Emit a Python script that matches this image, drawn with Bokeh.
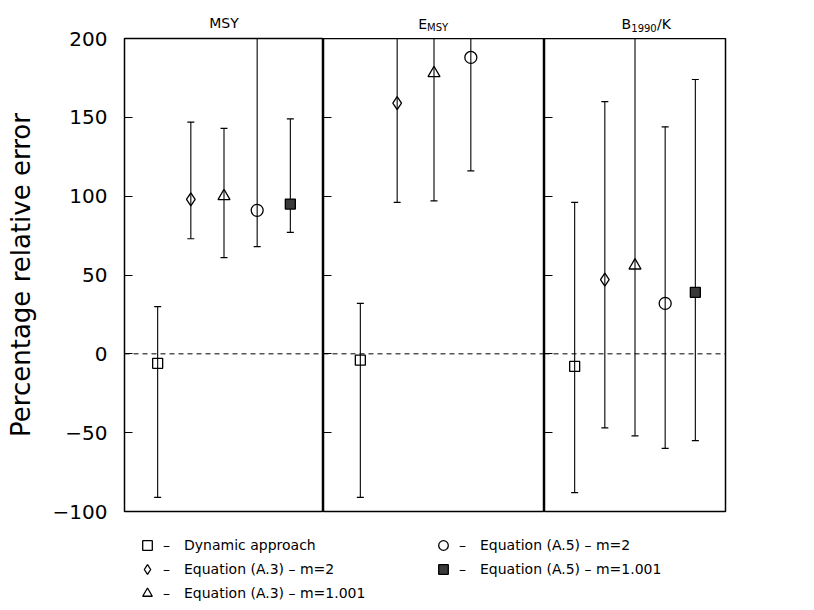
from bokeh.plotting import figure
from bokeh.models import (Range1d, ColumnDataSource, Whisker, TeeHead, Span, Label,
                          Legend, LegendItem, LinearAxis, FixedTicker)
from bokeh.layouts import row, column
from bokeh.embed import file_html
from bokeh.resources import INLINE

# ---------------- data ----------------
methods = ["Dynamic approach",
           "Equation (A.3) \u2013 m=2",
           "Equation (A.3) \u2013 m=1.001",
           "Equation (A.5) \u2013 m=2",
           "Equation (A.5) \u2013 m=1.001"]

msy_est = [-6, 98, 100, 91, 95]
msy_low = [-91, 73, 61, 68, 77]
msy_high = [30, 147, 143, 200, 149]

emsy_est = [-4, 159, 178, 188]
emsy_low = [-91, 96, 97, 116]
emsy_high = [32, 200, 200, 200]

b_est = [-8, 47, 56, 32, 39]
b_low = [-88, -47, -52, -60, -55]
b_high = [96, 160, 200, 144, 174]

y_ticks = [-100, -50, 0, 50, 100, 150, 200]

# ---------------- styles / layout ----------------
FONT = "DejaVu Sans"
STYLES = [
    dict(marker="square", size=10, fill_color=None),
    dict(marker="diamond", size=13, fill_color=None),
    dict(marker="triangle", size=12, fill_color=None),
    dict(marker="circle", size=12, fill_color=None),
    dict(marker="square", size=10, fill_color="#3a3a3a"),
]

LEFT = 124
PANEL_W = [199, 221, 181]
RIGHT = 814 - LEFT - sum(PANEL_W)
TOP_H = 38
FRAME_H = 473
BOTTOM = 14
LEG_H = 610 - TOP_H - FRAME_H - BOTTOM


def make_panel(frame_w, left, right, top, est, low, high, first):
    p = figure(frame_width=frame_w, frame_height=FRAME_H,
               x_range=Range1d(0, 6), y_range=Range1d(-100, 200),
               output_backend="svg", toolbar_location=None,
               min_border_left=left, min_border_right=right,
               min_border_top=top, min_border_bottom=BOTTOM,
               x_axis_location=None, y_axis_location=None)
    p.grid.visible = False
    p.outline_line_color = "black"
    p.outline_line_width = 1.5

    ax = LinearAxis(ticker=FixedTicker(ticks=y_ticks))
    ax.axis_line_color = None
    ax.major_tick_in = 8
    ax.major_tick_out = 0
    ax.major_tick_line_color = "black"
    ax.major_tick_line_width = 1.2
    ax.minor_tick_line_color = None
    if first:
        ax.major_label_text_font = FONT
        ax.major_label_text_font_size = "20px"
        ax.major_label_text_color = "black"
        ax.major_label_standoff = 17
        ax.axis_label = "Percentage relative error"
        ax.axis_label_text_font = FONT
        ax.axis_label_text_font_size = "26px"
        ax.axis_label_text_font_style = "normal"
        ax.axis_label_text_color = "black"
        ax.axis_label_standoff = 14
    else:
        ax.major_label_overrides = {t: "" for t in y_ticks}
        ax.major_label_text_color = None
        ax.major_label_standoff = 0
    p.add_layout(ax, "left")

    p.add_layout(Span(location=0, dimension="width", line_color="black",
                      line_width=1, line_dash="5 4"))

    n = len(est)
    pos = list(range(1, n + 1))
    src = ColumnDataSource(dict(x=pos, y=est, lower=low, upper=high))
    p.add_layout(Whisker(source=src, base="x", lower="lower", upper="upper",
                         line_color="black", line_width=1.1,
                         upper_head=TeeHead(size=7, line_color="black", line_width=1.2),
                         lower_head=TeeHead(size=7, line_color="black", line_width=1.2)))
    for i in range(n):
        st = STYLES[i]
        p.scatter(x=[pos[i]], y=[est[i]], marker=st["marker"], size=st["size"],
                  fill_color=st["fill_color"], line_color="black", line_width=1.3)
    return p


p1 = make_panel(PANEL_W[0], LEFT, 0, TOP_H, msy_est, msy_low, msy_high, True)
p2 = make_panel(PANEL_W[1], 0, 0, 0, emsy_est, emsy_low, emsy_high, False)
p3 = make_panel(PANEL_W[2], 0, RIGHT, 0, b_est, b_low, b_high, False)

p1.title.text = "MSY"
p1.title.align = "center"
p1.title.text_font = FONT
p1.title.text_font_size = "14px"
p1.title.text_font_style = "normal"
p1.title.text_color = "black"
p1.title.standoff = 16

# ---------------- titles of panels 2 and 3 (strip above them) ----------------
STRIP_W = PANEL_W[1] + PANEL_W[2] + RIGHT
tf = figure(width=STRIP_W, height=TOP_H, output_backend="svg", toolbar_location=None,
            x_range=Range1d(0, STRIP_W), y_range=Range1d(0, TOP_H),
            x_axis_location=None, y_axis_location=None, min_border=0)
tf.grid.visible = False
tf.outline_line_color = None

c2 = PANEL_W[1] / 2
c3 = PANEL_W[1] + PANEL_W[2] / 2


def title_part(cx, text, size, xoff, yoff, align):
    tf.add_layout(Label(x=cx, y=0, x_offset=xoff, y_offset=yoff, text=text,
                        text_font=FONT, text_font_size=size, text_align=align,
                        text_baseline="alphabetic", text_color="black"))

title_part(c2, "E", "14px", -7, 15, "right")
title_part(c2, "MSY", "10px", -7, 11, "left")
title_part(c3, "B", "14px", -4, 15, "right")
title_part(c3, "1990", "10px", 9, 11, "center")
title_part(c3, "/K", "14px", 22, 15, "left")

# ---------------- legend strip ----------------
lf = figure(width=814, height=LEG_H, output_backend="svg", toolbar_location=None,
            x_range=Range1d(0, 1), y_range=Range1d(1000, 1001),
            x_axis_location=None, y_axis_location=None, min_border=0)
lf.grid.visible = False
lf.outline_line_color = None

items = []
for i, name in enumerate(methods):
    st = STYLES[i]
    r = lf.scatter(x=[0.5], y=[msy_est[i]], marker=st["marker"], fill_color=st["fill_color"],
                   line_color="black", line_width=1.3)
    items.append(LegendItem(label="\u2013\u2003" + name, renderers=[r]))

TOP_GAP = 545 - 12 - (TOP_H + FRAME_H + BOTTOM)


def make_legend(its, x):
    h = 24 * len(its)
    return Legend(items=its, location=(x, LEG_H - TOP_GAP - h), orientation="vertical",
                  padding=0, margin=0, spacing=0,
                  glyph_width=26, glyph_height=24, label_height=22,
                  label_standoff=3, border_line_color=None,
                  background_fill_alpha=0,
                  label_text_font=FONT, label_text_font_size="14px",
                  label_text_color="black")

lf.add_layout(make_legend(items[:3], 134))
lf.add_layout(make_legend(items[3:], 430))

layout = column(row(p1, column(tf, row(p2, p3))), lf)
open("out.html", "w").write(file_html(layout, INLINE))
